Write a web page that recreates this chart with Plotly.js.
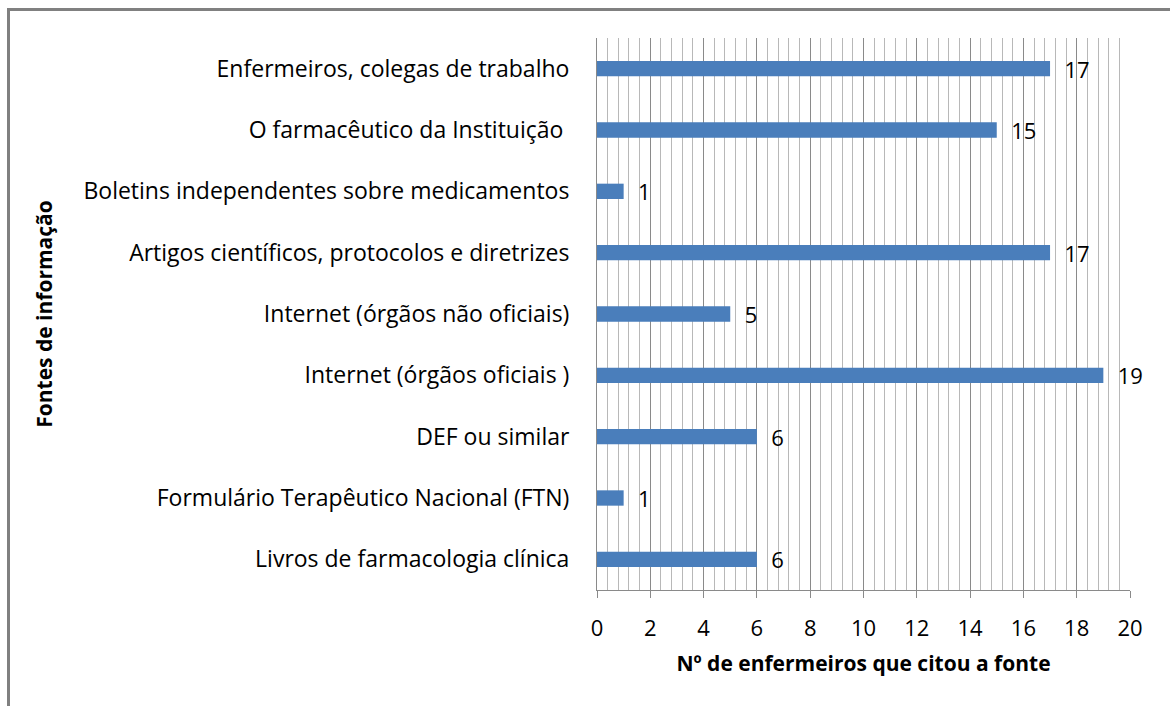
<!DOCTYPE html>
<html>
<head>
<meta charset="utf-8">
<script src="https://cdn.plot.ly/plotly-3.0.1.min.js"></script>
<style>
  html, body { margin: 0; padding: 0; background: #fff; }
  #frame { position: absolute; left: 7px; top: 8px; width: 1163px; height: 698px;
           border-left: 3px solid #808080; border-top: 3px solid #808080; box-sizing: border-box; }
  #chart { position: absolute; left: 0; top: 0; width: 1170px; height: 706px; }
</style>
</head>
<body>
<div id="frame"></div>
<div id="chart"></div>
<script>
// Categories listed bottom to top (Plotly draws first category at bottom)
const categories = [
  "Livros de farmacologia clínica",
  "Formulário Terapêutico Nacional (FTN)",
  "DEF ou similar",
  "Internet (órgãos oficiais )",
  "Internet (órgãos não oficiais)",
  "Artigos científicos, protocolos e diretrizes",
  "Boletins independentes sobre medicamentos",
  "O farmacêutico da Instituição ",
  "Enfermeiros, colegas de trabalho"
];
const counts = [6, 1, 6, 19, 5, 17, 1, 15, 17];
const xAxisTitle = "Nº de enfermeiros que citou a fonte";
const yAxisTitle = "Fontes de informação";

const FONT = "'Open Sans', sans-serif";

const trace = {
  type: "bar",
  orientation: "h",
  y: categories,
  x: counts,
  marker: { color: "#4a7ebb", line: { width: 0 } },
  texttemplate: "  %{x}",
  textposition: "outside",
  constraintext: "none",
  cliponaxis: false,
  textfont: { family: FONT, size: 22, color: "#000" },
  hoverinfo: "x+y"
};

const layout = {
  width: 1170,
  height: 706,
  margin: { l: 597, r: 40, t: 38, b: 116 },
  paper_bgcolor: "rgba(0,0,0,0)",
  plot_bgcolor: "rgba(0,0,0,0)",
  bargap: 0.75,
  showlegend: false,
  font: { family: FONT, color: "#000" },
  xaxis: {
    range: [0, 20],
    tickmode: "linear",
    tick0: 0,
    dtick: 2,
    showgrid: true,
    gridcolor: "#8a8a8a",
    gridwidth: 1,
    minor: { tick0: 0, dtick: 0.4, showgrid: true, gridcolor: "#b8b8b8", gridwidth: 1, ticks: "" },
    zeroline: false,
    showline: true,
    linecolor: "#8a8a8a",
    linewidth: 1,
    ticks: "outside",
    ticklen: 7,
    tickcolor: "#8a8a8a",
    ticklabelstandoff: 12,
    tickfont: { family: FONT, size: 22, color: "#000" },
    title: { text: xAxisTitle, font: { family: FONT, size: 21, color: "#000", weight: "bold" }, standoff: 14 }
  },
  yaxis: {
    type: "category",
    categoryorder: "array",
    categoryarray: categories,
    range: [-0.5, 8.5],
    showgrid: false,
    zeroline: false,
    showline: true,
    linecolor: "#8a8a8a",
    linewidth: 1,
    ticks: "",
    ticklabelstandoff: 22,
    tickfont: { family: FONT, size: 23, color: "#000" },
    title: { text: yAxisTitle, font: { family: FONT, size: 21, color: "#000", weight: "bold" }, standoff: 25 }
  }
};

Plotly.newPlot("chart", [trace], layout, { displayModeBar: false, staticPlot: true });
</script>
</body>
</html>
